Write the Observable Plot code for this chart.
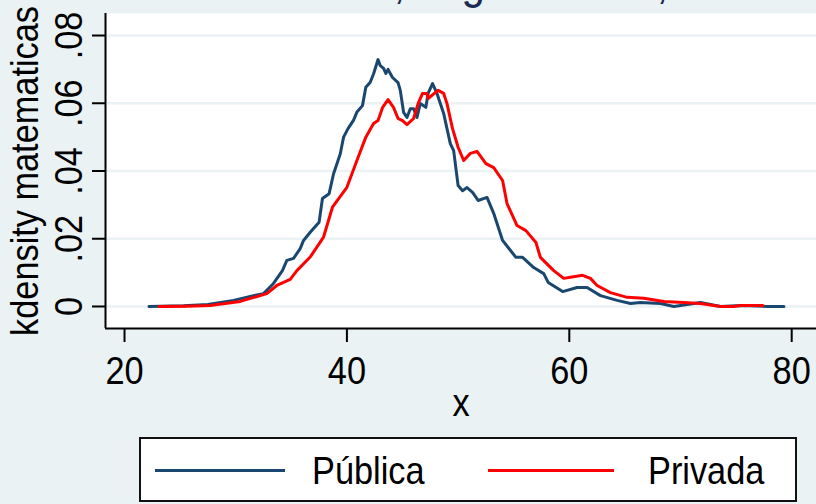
<!DOCTYPE html>
<html>
<head>
<meta charset="utf-8">
<script src="https://cdn.jsdelivr.net/npm/d3@7"></script>
<script src="https://cdn.jsdelivr.net/npm/@observablehq/plot@0.6"></script>
<style>
  html, body { margin: 0; padding: 0; background: #EAF2F3; }
  #wrap { position: relative; width: 816px; height: 504px; overflow: hidden; font-family: "Liberation Sans", Arial, sans-serif; }
  #title { position: absolute; left: 154px; top: -42px; font-size: 48px; line-height: 48px; color: #1C2B55; white-space: nowrap; transform: scaleX(0.88); transform-origin: 0 0; }
  #chart { position: absolute; left: 0; top: 0; }
  #legend { position: absolute; left: 139px; top: 437px; width: 654px; height: 61px; border: 2px solid #111; background: #fff; }
  .sw { position: absolute; height: 3px; top: 30px; }
  .lt { position: absolute; top: 12px; font-size: 39px; line-height: 39px; color: #000; white-space: nowrap; transform: scaleX(0.88); transform-origin: 0 0; }
</style>
</head>
<body>
<div id="wrap">
  <div id="chart"></div>
  <div id="title"></div>
  <div id="legend"></div>
</div>
<script>
// ---- data ----
const titleText = "Matemáticas, según sector, 2015";
const yTitle = "kdensity matematicas";
const xTitle = "x";
const seriesNames = ["Pública", "Privada"];
const seriesColors = ["#1A476F", "#FF0000"];

const xTicks = [20, 40, 60, 80];
const yTicks = [0, 0.02, 0.04, 0.06, 0.08];
const yTickLabels = ["0", ".02", ".04", ".06", ".08"];

const pubX = [22.2, 25.3, 27.5, 29.8, 31.6, 32.5, 33.4, 34.2, 34.6, 35.2, 35.8, 36.1, 36.7, 37.5, 37.8, 38.4, 38.8, 39.4, 39.7, 40.1, 40.6, 40.9, 41.4, 41.7, 42.1, 42.4, 42.8, 43.0, 43.3, 43.5, 43.7, 44.1, 44.6, 44.8, 45.1, 45.4, 45.7, 46.0, 46.3, 46.6, 47.1, 47.3, 47.7, 48.1, 48.7, 49.0, 49.3, 49.6, 50.0, 50.4, 50.8, 51.3, 51.8, 52.6, 53.2, 54.0, 54.5, 55.2, 55.8, 56.8, 57.7, 58.1, 59.4, 60.7, 61.6, 62.8, 64.3, 65.5, 66.4, 68.2, 69.4, 71.8, 73.6, 75.5, 77.8, 79.3];
const pubY = [0, 0.0002, 0.0006, 0.0018, 0.0032, 0.0038, 0.0068, 0.0106, 0.0136, 0.0142, 0.0171, 0.0195, 0.0219, 0.0249, 0.0319, 0.0333, 0.0392, 0.045, 0.050, 0.0525, 0.055, 0.0574, 0.0593, 0.0647, 0.0662, 0.0687, 0.0729, 0.0711, 0.0703, 0.0688, 0.070, 0.0676, 0.0661, 0.0638, 0.0573, 0.0558, 0.0584, 0.0584, 0.0558, 0.0599, 0.0588, 0.0629, 0.0658, 0.0629, 0.057, 0.0525, 0.0481, 0.046, 0.0357, 0.0342, 0.0351, 0.0337, 0.0313, 0.0322, 0.0275, 0.0195, 0.0174, 0.0145, 0.0145, 0.0115, 0.0097, 0.0071, 0.0044, 0.0056, 0.0056, 0.0032, 0.0018, 0.0009, 0.0012, 0.0009, 0.0, 0.0012, 0.0, 0.0003, 0.0, 0.0];

const priX = [23.1, 25.5, 27.7, 30.4, 32.8, 33.7, 34.9, 35.5, 36.7, 37.9, 38.7, 40.0, 40.9, 41.7, 42.4, 42.8, 43.2, 43.7, 44.2, 44.6, 45.0, 45.4, 46.0, 46.4, 46.8, 47.2, 47.3, 48.2, 48.7, 49.0, 49.5, 50.0, 50.5, 51.1, 51.7, 52.5, 53.2, 54.0, 54.4, 55.3, 56.1, 57.0, 57.4, 58.6, 59.5, 60.1, 61.2, 61.9, 62.5, 63.7, 65.2, 66.7, 68.5, 70.3, 71.8, 73.6, 74.8, 75.4, 77.4];
const priY = [0, 0.0001, 0.0003, 0.0015, 0.0038, 0.0062, 0.008, 0.0106, 0.0146, 0.0205, 0.0293, 0.0352, 0.0431, 0.050, 0.054, 0.0549, 0.0587, 0.0611, 0.0587, 0.0555, 0.0549, 0.0537, 0.0555, 0.0599, 0.0629, 0.0629, 0.0614, 0.0638, 0.0629, 0.0599, 0.0525, 0.047, 0.0431, 0.0452, 0.0458, 0.0422, 0.041, 0.0372, 0.0304, 0.0239, 0.0224, 0.0189, 0.0145, 0.0106, 0.0083, 0.0086, 0.0092, 0.0083, 0.0062, 0.0041, 0.0027, 0.0024, 0.0015, 0.0012, 0.0009, 0, 0, 0.0003, 0.0003];

// ---- build ----
const pub = pubX.map((x, i) => ({x, y: pubY[i]}));
const pri = priX.map((x, i) => ({x, y: priY[i]}));
const xDomain = [18.29, 82.23];
const yDomain = [-0.0065, 0.0865];
const FS = 39;

const svg = Plot.plot({
  width: 816,
  height: 430,
  marginLeft: 105,
  marginRight: 0,
  marginTop: 13,
  marginBottom: 102,
  x: {domain: xDomain},
  y: {domain: yDomain},
  style: {background: "transparent", fontFamily: "'Liberation Sans', Arial, sans-serif", fontSize: FS + "px", color: "#000", overflow: "visible"},
  marks: [
    Plot.frame({fill: "white", stroke: "none"}),
    Plot.gridY(yTicks, {stroke: "#EAF2F3", strokeOpacity: 1, strokeWidth: 2.5}),
    Plot.line(pub, {x: "x", y: "y", stroke: seriesColors[0], strokeWidth: 3}),
    Plot.line(pri, {x: "x", y: "y", stroke: seriesColors[1], strokeWidth: 3}),
    Plot.ruleX([xDomain[0]], {stroke: "#000", strokeWidth: 2}),
    Plot.ruleY([yDomain[0]], {stroke: "#000", strokeWidth: 2}),
    Plot.axisX(xTicks, {tickSize: 14, tickPadding: 14, strokeWidth: 2, fontSize: FS, label: null, tickFormat: d => String(d)}),
    Plot.axisY(yTicks, {tickSize: 13, strokeWidth: 2, label: null, tickFormat: () => ""}),
    Plot.text(yTicks, {y: d => d, text: (d, i) => yTickLabels[i], frameAnchor: "left", dx: -36, rotate: -90, textAnchor: "middle", lineAnchor: "middle", fontSize: FS, fill: "#000"}),
    Plot.text([yTitle], {text: d => d, frameAnchor: "left", dx: -80, rotate: -90, textAnchor: "middle", lineAnchor: "middle", fontSize: FS, fill: "#000"}),
    Plot.text([xTitle], {text: d => d, frameAnchor: "bottom", dy: 75, textAnchor: "middle", lineAnchor: "middle", fontSize: FS, fill: "#000"})
  ]
});

// condense glyphs horizontally like the reference font
svg.querySelectorAll("text").forEach(t => {
  const tr = t.getAttribute("transform");
  if (tr) {
    t.setAttribute("transform", tr + " scale(0.88,1)");
  } else {
    const x = t.getAttribute("x") || 0, y = t.getAttribute("y") || 0;
    t.removeAttribute("x"); t.removeAttribute("y");
    t.setAttribute("transform", `translate(${x},${y}) scale(0.88,1)`);
  }
});
document.getElementById("chart").appendChild(svg);

document.getElementById("title").textContent = titleText;

// legend
const legend = document.getElementById("legend");
const items = [
  {name: seriesNames[0], color: seriesColors[0], lineLeft: 14, lineW: 130, textLeft: 171},
  {name: seriesNames[1], color: seriesColors[1], lineLeft: 347, lineW: 126, textLeft: 507}
];
items.forEach(it => {
  const sw = document.createElement("div");
  sw.className = "sw";
  sw.style.left = it.lineLeft + "px";
  sw.style.width = it.lineW + "px";
  sw.style.background = it.color;
  legend.appendChild(sw);
  const tx = document.createElement("div");
  tx.className = "lt";
  tx.style.left = it.textLeft + "px";
  tx.textContent = it.name;
  legend.appendChild(tx);
});
</script>
</body>
</html>
